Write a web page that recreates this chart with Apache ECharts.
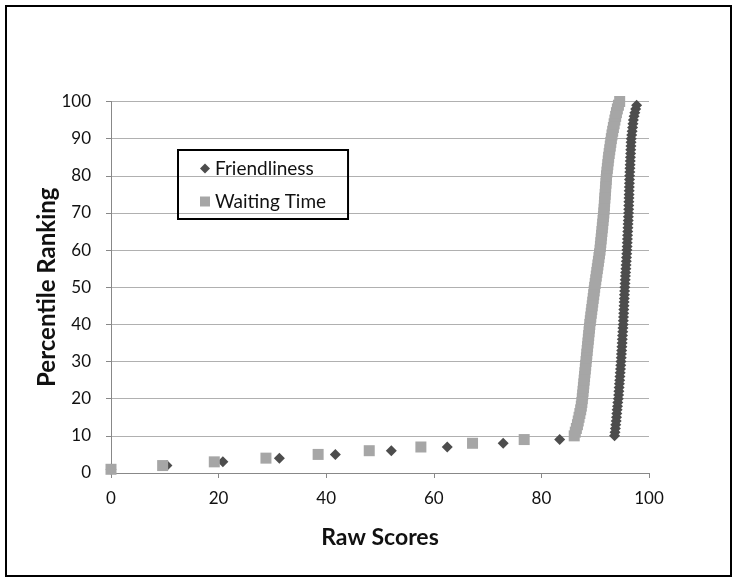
<!DOCTYPE html>
<html>
<head>
<meta charset="utf-8">
<script src="https://cdn.jsdelivr.net/npm/echarts@6/dist/echarts.min.js"></script>
<style>
  html, body { margin: 0; padding: 0; background: #fff; }
  #chart { width: 738px; height: 583px; }
</style>
</head>
<body>
<div id="chart"></div>
<script>
// percentile ranks (y) shared by both series
const percentiles = [
  1, 2, 3, 4, 5, 6, 7, 8, 9, 10,
  11, 12, 13, 14, 15, 16, 17, 18, 19, 20,
  21, 22, 23, 24, 25, 26, 27, 28, 29, 30,
  31, 32, 33, 34, 35, 36, 37, 38, 39, 40,
  41, 42, 43, 44, 45, 46, 47, 48, 49, 50,
  51, 52, 53, 54, 55, 56, 57, 58, 59, 60,
  61, 62, 63, 64, 65, 66, 67, 68, 69, 70,
  71, 72, 73, 74, 75, 76, 77, 78, 79, 80,
  81, 82, 83, 84, 85, 86, 87, 88, 89, 90,
  91, 92, 93, 94, 95, 96, 97, 98, 99, 100
];

// raw scores, one per percentile rank (1..99)
const friendlinessScores = [
  0, 10.4, 20.8, 31.3, 41.7, 52.1, 62.5, 72.9, 83.4,
  93.6, 93.68, 93.75, 93.82, 93.9, 93.96, 94.02, 94.08, 94.14, 94.2,
  94.3, 94.35, 94.4, 94.45, 94.5, 94.55, 94.6, 94.65, 94.7, 94.75,
  94.8, 94.84, 94.88, 94.92, 94.96, 95.0, 95.04, 95.08, 95.12, 95.16,
  95.2, 95.23, 95.26, 95.29, 95.32, 95.35, 95.38, 95.41, 95.44, 95.47,
  95.5, 95.54, 95.58, 95.62, 95.66, 95.7, 95.74, 95.78, 95.82, 95.86,
  95.9, 95.93, 95.96, 95.99, 96.02, 96.05, 96.08, 96.11, 96.14, 96.17,
  96.2, 96.22, 96.24, 96.26, 96.28, 96.3, 96.32, 96.34, 96.36, 96.38,
  96.4, 96.43, 96.46, 96.49, 96.52, 96.55, 96.58, 96.61, 96.64, 96.67,
  96.7, 96.78, 96.86, 96.94, 97.02, 97.1, 97.22, 97.36, 97.52, 97.7
];

// raw scores, one per percentile rank (1..100)
const waitingScores = [
  0, 9.6, 19.2, 28.8, 38.5, 48.0, 57.6, 67.2, 76.8,
  86.1, 86.3, 86.5, 86.7, 86.85, 87.0, 87.15, 87.3, 87.42, 87.52,
  87.6, 87.67, 87.74, 87.81, 87.88, 87.95, 88.02, 88.09, 88.16, 88.23,
  88.3, 88.37, 88.44, 88.51, 88.58, 88.65, 88.72, 88.79, 88.86, 88.93,
  89.0, 89.09, 89.18, 89.27, 89.36, 89.45, 89.54, 89.63, 89.72, 89.81,
  89.9, 90.0, 90.1, 90.2, 90.3, 90.4, 90.5, 90.6, 90.7, 90.8,
  90.9, 90.97, 91.04, 91.11, 91.18, 91.25, 91.32, 91.39, 91.46, 91.53,
  91.6, 91.65, 91.7, 91.75, 91.8, 91.85, 91.9, 91.95, 92.0, 92.05,
  92.1, 92.18, 92.26, 92.34, 92.42, 92.5, 92.6, 92.7, 92.8, 92.9,
  93.0, 93.12, 93.25, 93.38, 93.52, 93.66, 93.8, 93.95, 94.12, 94.32, 94.55
];

const font = "Lato, 'Liberation Sans', sans-serif";

const chart = echarts.init(document.getElementById("chart"));

chart.setOption({
  animation: false,
  textStyle: { fontFamily: font },
  graphic: [
    {
      type: "rect",
      shape: { x: 6, y: 6, width: 725, height: 570 },
      style: { fill: "none", stroke: "#000", lineWidth: 2 },
      z: 100,
    },
  ],
  grid: { left: 111, right: 89, top: 101.5, bottom: 110 },
  legend: {
    left: 178,
    top: 150,
    orient: "vertical",
    borderColor: "#000",
    borderWidth: 2,
    padding: [9, 22, 8, 22],
    itemGap: 14,
    itemWidth: 10,
    itemHeight: 10,
    textStyle: { fontFamily: font, fontSize: 19, color: "#111" },
    data: [
      { name: "Friendliness", icon: "diamond" },
      { name: "Waiting Time", icon: "rect" },
    ],
  },
  xAxis: {
    type: "value",
    min: 0,
    max: 100,
    interval: 20,
    name: "Raw Scores",
    nameLocation: "middle",
    nameGap: 53,
    nameMoveOverlap: false,
    nameTextStyle: { fontFamily: font, fontSize: 23, fontWeight: "bold", color: "#111" },
    axisLine: { lineStyle: { color: "#888", width: 1 } },
    axisTick: { show: true, length: 5, lineStyle: { color: "#888" } },
    axisLabel: { fontSize: 17, color: "#111", margin: 17 },
    splitLine: { show: false },
  },
  yAxis: {
    type: "value",
    min: 0,
    max: 100,
    interval: 10,
    name: "Percentile Ranking",
    nameLocation: "middle",
    nameGap: 52,
    nameMoveOverlap: false,
    nameRotate: 90,
    nameTextStyle: { fontFamily: font, fontSize: 24, fontWeight: "bold", color: "#111" },
    axisLine: { show: true, lineStyle: { color: "#888", width: 1 } },
    axisTick: { show: true, length: 5, lineStyle: { color: "#888" } },
    axisLabel: { fontSize: 17, color: "#111", margin: 20 },
    splitLine: { lineStyle: { color: "#b0b0b0", width: 1 } },
  },
  series: [
    {
      name: "Friendliness",
      type: "scatter",
      symbol: "diamond",
      symbolSize: 11,
      itemStyle: { color: "#4d4d4d", opacity: 1 },
      data: friendlinessScores.map((x, i) => [x, percentiles[i]]),
    },
    {
      name: "Waiting Time",
      type: "scatter",
      symbol: "rect",
      symbolSize: 11,
      itemStyle: { color: "#a6a6a6", opacity: 1 },
      data: waitingScores.map((x, i) => [x, percentiles[i]]),
    },
  ],
});
</script>
</body>
</html>
